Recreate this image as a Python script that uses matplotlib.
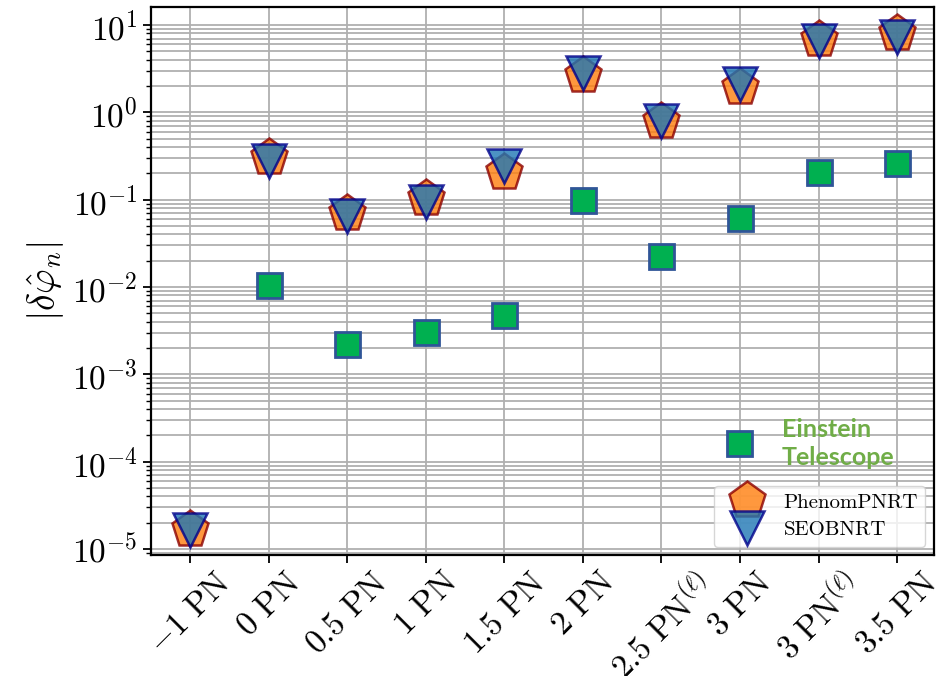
import numpy as np
import matplotlib
matplotlib.use('Agg')
import matplotlib.pyplot as plt
from matplotlib.lines import Line2D

plt.rcParams['mathtext.fontset'] = 'cm'
plt.rcParams['font.family'] = 'serif'
plt.rcParams['font.serif'] = ['cmr10', 'DejaVu Serif']
plt.rcParams['axes.unicode_minus'] = False
plt.rcParams['axes.formatter.use_mathtext'] = True

# PN orders and recovered deviations |delta phi_n|
pn_labels = [r'$-1\ \mathrm{PN}$', r'$0\ \mathrm{PN}$', r'$0.5\ \mathrm{PN}$',
             r'$1\ \mathrm{PN}$', r'$1.5\ \mathrm{PN}$', r'$2\ \mathrm{PN}$',
             r'$2.5\ \mathrm{PN}^{(\ell)}$', r'$3\ \mathrm{PN}$',
             r'$3\ \mathrm{PN}^{(\ell)}$', r'$3.5\ \mathrm{PN}$']
phenom = [1.71e-5, 0.31, 0.071, 0.104, 0.208, 2.7, 0.79, 1.95, 6.9, 8.1]
seob = [1.64e-5, 0.278, 0.065, 0.095, 0.245, 2.82, 0.80, 2.1, 6.5, 7.3]
et = [np.nan, 0.0106, 0.00224, 0.00307, 0.0048, 0.098, 0.0227, 0.062, 0.208, 0.264]

x = np.arange(len(pn_labels))

fig = plt.figure(figsize=(9.38, 6.76), dpi=100)
ax = fig.add_axes([0.161, 0.179, 0.8347, 0.8106])

ax.plot(x, phenom, ls='none', marker='p', ms=28, mfc='C1', mec='darkred',
        mew=1.8, alpha=0.8, zorder=3)
ax.plot(x, seob, ls='none', marker='v', ms=25, mfc='C0', mec='darkblue',
        mew=1.8, alpha=0.8, zorder=4)
ax.plot(x, et, ls='none', marker='s', ms=18, mfc='#00b050', mec='#2f5597',
        mew=2, zorder=5)

ax.set_yscale('log')
ax.set_ylim(10**-5.069, 10**1.206)
ax.set_xlim(-0.5, 9.47)
ax.set_xticks(x)
ax.set_xticklabels(pn_labels, rotation=45, ha='center', fontsize=23.5)
ax.grid(True, which='both', color='#b0b0b0', lw=1.3)
ax.set_axisbelow(True)
ax.tick_params(axis='both', which='major', labelsize=24, length=6, width=1.3)
ax.tick_params(axis='y', which='minor', length=3.5, width=1)
ax.tick_params(axis='x', pad=3)
for s in ax.spines.values():
    s.set_linewidth(1.6)
ax.set_ylabel(r'$|\delta\hat{\varphi}_n|$', fontsize=27)

handles = [Line2D([], [], ls='none', marker='p', ms=28, mfc='C1', mec='darkred',
                  mew=1.8, alpha=0.8),
           Line2D([], [], ls='none', marker='v', ms=25, mfc='C0', mec='darkblue',
                  mew=1.8, alpha=0.8)]
ax.legend(handles, ['PhenomPNRT', 'SEOBNRT'], loc='lower right',
          bbox_to_anchor=(0.989, 0.015), borderaxespad=0, fontsize=15,
          labelspacing=0.45, handletextpad=0.5, handlelength=2.5,
          borderpad=0.35, framealpha=0.8)

# Einstein Telescope tag
ax.plot([0.751], [0.204], transform=ax.transAxes, ls='none', marker='s', ms=18,
        mfc='#00b050', mec='#2f5597', mew=2, zorder=6, clip_on=False)
ax.text(0.806, 0.204, 'Einstein\nTelescope', transform=ax.transAxes,
        family='Lato', weight='bold', fontsize=18, color='#70ad47',
        va='center', ha='left', linespacing=1.25, zorder=6)

fig.savefig('out.png', dpi=100)
